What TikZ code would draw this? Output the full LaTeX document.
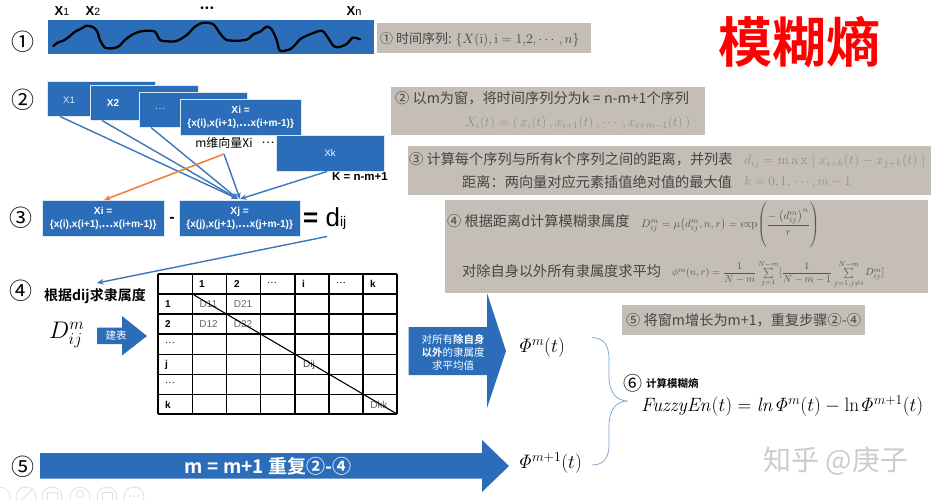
\RequirePackage{fix-cm}
\documentclass[tikz,border=0pt]{standalone}
\usepackage{amsmath}
\usepackage[no-math]{fontspec}
\setmainfont{Liberation Sans}
\newfontfamily\cjk{Noto Sans CJK SC}
\newfontfamily\cjkb{Noto Sans CJK SC Bold}
\newcommand\fsz[1]{\fontsize{#1}{#1}\selectfont}
\definecolor{bbox}{HTML}{2B6DB9}
\definecolor{bline}{HTML}{3A76B8}
\definecolor{gbox}{HTML}{C4BEB6}
\definecolor{gtext}{HTML}{454545}
\definecolor{gform}{HTML}{8F8F8F}
\definecolor{fform}{HTML}{555555}
\definecolor{orng}{HTML}{ED7D31}
\usetikzlibrary{arrows.meta}
\tikzset{
  bluebox/.style={draw=white!85!bbox,line width=.4pt,fill=bbox,text=white,inner sep=0pt,align=center,minimum width=#1},
  num/.style={font=\cjk\fsz{23},text=black,inner sep=0pt},
  gt/.style={font=\cjk\fsz{14.2},text=gtext,inner sep=0pt,anchor=west},
  lnk/.style={draw=bline,line width=1.4pt,-{Stealth[length=6.5pt,width=5.5pt]}},
  cell/.style={font=\fsz{9.5},text=black,inner sep=0pt,anchor=west},
  dcell/.style={font=\fsz{10},text=black!60,inner sep=0pt},
  xlab/.style={font=\fsz{11},text=white,inner sep=0pt},
  tl/.style={inner sep=0pt,text=black}
}
\begin{document}
\begin{tikzpicture}[x=1pt,y=-1pt]
\useasboundingbox (0,0) rectangle (931,500);
% toolbar remains
\begin{scope}
\clip (0,470) rectangle (931,500);
\foreach \c in {0,26,52,80,107,134}{\draw[black!12,line width=.8pt] (\c,497) circle (10);}
\draw[black!12,line width=.8pt] (21,500) -- (32,490);
\draw[black!12,line width=.8pt] (47,492) rectangle (57,500);
\draw[black!12,line width=.8pt] (80,494) circle (4);
\draw[black!12,line width=.8pt] (102,492) rectangle (112,500);
\foreach \c in {130,134,138}{\fill[black!12] (\c,496) circle (1.2);}
\end{scope}
% row 1
\node[fill=bbox,minimum width=326pt,minimum height=34pt,inner sep=0pt,anchor=north west] (strip) at (48,20) {};
\draw[black,line width=2.3pt,line cap=round,line join=round] plot[smooth,tension=.45] coordinates {
(53.3,46)(58.3,42.3)(63.3,40.7)(68.3,37.3)(75,31.7)(80,29.3)(86.7,25.7)(93.3,27.3)(97.3,31.7)(100,40)(105,47.7)(111.7,48.3)(118.3,46.7)(125,40)(131.7,35)(138.3,32)(146.7,30.7)(155,31.7)(160,40)(166.7,41.3)(176.7,41)(186.7,35)(195,26.7)(203.3,22.7)(213.3,24.3)(220,33.3)(226.7,40)(240,40.7)(248.3,39)(253.3,34.3)(260,31.7)(266.7,26.7)(271.7,29.3)(276.7,40)(280,50.7)(290,49.3)(295,45)(300,39.3)(308.3,35)(321.7,30.7)(328.3,38.3)(333.3,45.7)(338.3,47.3)(346.7,44)(352.7,37.7)(360,39.3)};
\node[tl,font=\fsz{13}] (x1) at (62,11) {\textbf{X}\fsz{10.5}1};
\node[tl,font=\fsz{13}] (x2) at (93,11) {\textbf{X}\fsz{10.5}2};
\node[tl,font=\fsz{13}] (xdots) at (207,8.5) {\textbf{\cjk ⋯}};
\node[tl,font=\fsz{13}] (xn) at (354,11) {\textbf{X}\fsz{11}n};
\node[num] (n1) at (23,42) {①};
\node[num] (n2) at (23,100) {②};
\node[num] (n3) at (21,218) {③};
\node[num] (n4) at (21,291) {④};
\node[num] (n5) at (23,467) {⑤};
% gray boxes
\fill[gbox] (376.5,23) rectangle (591,53);
\fill[gbox] (391,87) rectangle (704.5,135);
\fill[gbox] (408,146) rectangle (931,195);
\fill[gbox] (444.5,200) rectangle (928,293);
\fill[gbox] (622,305) rectangle (865,335);
\node[gt,font=\cjk\fsz{13}] (t1) at (380,40) {① 时间序列: \fsz{13.5}$\{X(\mathrm{i}),\mathrm{i}=1{,}2,\cdots,n\}$};
\node[gt] (t2) at (395,98.5) {② 以m为窗，将时间序列分为k = n-m+1个序列};
\node[inner sep=0pt,text=gform,font=\fsz{13.5},anchor=west] (f2) at (465,123) {$X_i(t)=(\,x_i(t)\,,x_{i+1}(t)\,,\cdots,x_{i+m-1}(t)\,)$};
\node[gt] (t3) at (409,159) {③ 计算每个序列与所有k个序列之间的距离，并列表};
\node[inner sep=0pt,text=gform,font=\fsz{13.8},anchor=west] (f3) at (744,161) {$d_{ij}=\mathrm{m\,a\,x}\mid x_{i+k}(t)-x_{j+k}(t)\mid$};
\node[gt] (t3b) at (462,182) {距离：两向量对应元素插值绝对值的最大值};
\node[inner sep=0pt,text=gform,font=\fsz{13},anchor=west] (f3b) at (744,182) {$k=0{,}\,1{,}\,\cdots{,}\,m-1$};
\node[gt] (t4) at (447,221) {④ 根据距离d计算模糊隶属度};
\node[inner sep=0pt,text=fform,font=\fsz{11},anchor=west] (f4) at (641,226) {$D_{ij}^{m}=\mu\!\left(d_{ij}^{m},n,r\right)=\exp\!\left(\rule[-22pt]{0pt}{46pt}\dfrac{-\left(d_{ij}^{m}\right)^{n}}{r}\right)$};
\node[gt] (t4b) at (462,271) {对除自身以外所有隶属度求平均};
\node[inner sep=0pt,text=fform,font=\fsz{10.2},anchor=west] (f4b) at (672,274) {$\phi^{m}(n,r)=\dfrac{1}{N-m}\sum\limits_{j=1}^{N-m}[\dfrac{1}{N-m-1}\sum\limits_{j=1,j\neq i}^{N-m}D_{ij}^{m}]$};
\node[gt] (t5) at (626,320) {⑤ 将窗m增长为m+1，重复步骤②-④};
% title
\node[inner sep=0pt,text=red,font=\cjkb\fsz{54}] (title) at (799,42) {模糊熵};
% row 2 boxes
\node[bluebox=108pt,minimum height=35pt,anchor=north west,font=\fsz{9.5}] (b1) at (47,81) {};
\node[bluebox=108pt,minimum height=35pt,anchor=north west,font=\fsz{10}] (b2) at (90,85) {};
\node[bluebox=108pt,minimum height=35pt,anchor=north west] (b3) at (139,92) {};
\node[bluebox=121pt,minimum height=36pt,anchor=north west,font=\fsz{10.2}\bfseries] (bi) at (180,99) {Xi =\\[2.5pt]\{x(i),x(i+1),{\cjk ⋯}x(i+m-1)\}};
\node[bluebox=108pt,minimum height=36pt,anchor=north west,font=\fsz{9.5}] (bk) at (276,135) {Xk};
\node[xlab,font=\fsz{9.5},text=white!85!bbox] (lb1) at (69,100) {X1};
\node[xlab,font=\fsz{10}\bfseries] (lb2) at (113,103) {X2};
\node[xlab,font=\cjk\fsz{9},text=white!80!bbox] (lb3) at (160,109) {⋯};
\node[tl,font=\cjk\fsz{12}] (mv) at (224,143) {m维向量Xi};
\node[tl,font=\cjk\fsz{12}] (mdots) at (268,143) {⋯};
\node[tl,font=\fsz{11.5}\bfseries] (kk) at (360,177) {K = n-m+1};
\node[bluebox=122pt,minimum height=36pt,anchor=north west,font=\fsz{10.2}\bfseries] (ci) at (42,200) {Xi =\\[2.5pt]\{x(i),x(i+1),{\cjk ⋯}x(i+m-1)\}};
\node[bluebox=121pt,minimum height=36pt,anchor=north west,font=\fsz{10.2}\bfseries] (cj) at (179,200) {Xj =\\[2.5pt]\{x(j),x(j+1),{\cjk ⋯}x(j+m-1)\}};
\node[tl,font=\fsz{16}\bfseries] (minus) at (172,220) {-};
\node[tl,font=\fsz{26},anchor=west] (dij) at (303,219) {\textbf{=} d\fsz{14}ij};
% connectors row 2-3
\coordinate (hub) at (224,154);
\coordinate (s1) at (60,116.5);
\coordinate (s2) at (102,120.5);
\coordinate (s3) at (151,127.5);
\coordinate (sk) at (327,171.5);
\coordinate (e1) at (238,199);
\coordinate (e2) at (240,199);
\coordinate (e3) at (104,200);
\coordinate (d1) at (327,236.5);
\coordinate (d2) at (97,283);
\draw[lnk] (s1) -- (e1);
\draw[lnk] (s2) -- (e1);
\draw[lnk] (s3) -- (e1);
\draw[lnk] (hub) -- (e2);
\draw[lnk] (sk) -- (e2);
\draw[draw=orng,line width=1.5pt,-{Stealth[length=6.5pt,width=5.5pt]}] (hub) -- (e3);
\draw[lnk] (d1) -- (d2);
% row 4
\node[tl,font=\cjkb\fsz{14}] (gen) at (95,296) {根据dij求隶属度};
\node[tl,font=\fsz{24},anchor=west] (dm) at (49,335) {$D_{ij}^{m}$};
\fill[bbox] (97,327.5) -- (122,327.5) -- (122,316) -- (147,336) -- (122,355.5) -- (122,344) -- (97,344) -- cycle;
\node[tl,text=white,font=\cjk\fsz{10.5}] (jb) at (116,336) {建表};
% table
\foreach \x in {158,192.3,226.5,260.7,295,329,363,397}{\draw[black,line width=1.2pt] (\x,274) -- (\x,414);}
\foreach \y in {274,294,314,334,354.3,374.3,394.5,414}{\draw[black,line width=1.2pt] (158,\y) -- (397,\y);}
\node[cell,font=\bfseries\fsz{10}] (h1) at (199,284) {1};
\node[cell,font=\bfseries\fsz{10}] (h2) at (234,284) {2};
\node[cell,font=\cjk\fsz{9}] (h3) at (267,283) {⋯};
\node[cell,font=\bfseries\fsz{10}] (h4) at (302,284) {i};
\node[cell,font=\cjk\fsz{9}] (h5) at (336,283) {⋯};
\node[cell,font=\bfseries\fsz{10}] (h6) at (370,284) {k};
\node[cell,font=\bfseries\fsz{10}] (r1) at (165,304.5) {1};
\node[cell,font=\bfseries\fsz{10}] (r2) at (165,324.5) {2};
\node[cell,font=\cjk\fsz{9}] (r3) at (165,343) {⋯};
\node[cell,font=\bfseries\fsz{10}] (r4) at (165,364.5) {j};
\node[cell,font=\cjk\fsz{9}] (r5) at (165,383) {⋯};
\node[cell,font=\bfseries\fsz{10}] (r6) at (165,404.5) {k};
\node[dcell] (d11) at (208.5,304.5) {D11};
\node[dcell] (d21) at (243,304.5) {D21};
\node[dcell] (d12) at (208.5,324.5) {D12};
\node[dcell] (d22) at (243,324.5) {D22};
\node[dcell,text=black!75] (dd) at (309,364.5) {Dij};
\node[dcell] (dkk) at (379,405) {Dkk};
\draw[black,line width=1.1pt] (194,295) -- (397,414);
% big arrows
\fill[bbox] (408.5,327) -- (487,327) -- (487,293) -- (506,351) -- (487,408) -- (487,375) -- (408.5,375) -- cycle;
\node[tl,text=white,font=\cjk\fsz{10.5},align=center] (avg) at (453,352) {对所有{\cjkb 除自身}\\[2.5pt]{\cjkb 以外}的隶属度\\[2.5pt]求平均值};
\fill[bbox] (40,453) -- (482,453) -- (482,440) -- (509,466) -- (482,492) -- (482,478.5) -- (40,478.5) -- cycle;
\node[tl,text=white,font=\cjkb\fsz{19}] (rep) at (268,466.5) {m = m+1 重复②-④};
% phi
\node[tl,font=\fsz{19.5},anchor=west] (phi1) at (517,348) {$\mathit{\Phi}^{m}(t)$};
\node[tl,font=\fsz{19.5},anchor=west] (phi2) at (517,463) {$\mathit{\Phi}^{m+1}(t)$};
\coordinate (bt) at (592,337.5);
\coordinate (bm) at (628,401);
\coordinate (bb) at (592,465);
\draw[draw=bline!70,line width=.7pt] (bt) .. controls (603,338) and (609,344) .. (609,359) -- (609,376) .. controls (609,392) and (616,401) .. (bm) .. controls (616,401) and (609,410) .. (609,426) -- (609,444) .. controls (609,459) and (603,465) .. (bb);
\node[tl,font=\cjk\fsz{19}] (n6) at (633,383) {⑥};
\node[tl,font=\cjkb\fsz{10.5},anchor=west] (calc) at (646,384) {计算模糊熵};
\node[tl,font=\fsz{19.3},anchor=west] (fe) at (641,406) {$\mathit{FuzzyEn}(t)=\mathit{ln}\mathit{\Phi}^{m}(t)-\mathrm{ln}\mathit{\Phi}^{m+1}(t)$};
\node[inner sep=0pt,text=black!20,font=\cjk\fsz{28}] (wm) at (836,461) {知乎 @庚子};
\end{tikzpicture}
\end{document}
